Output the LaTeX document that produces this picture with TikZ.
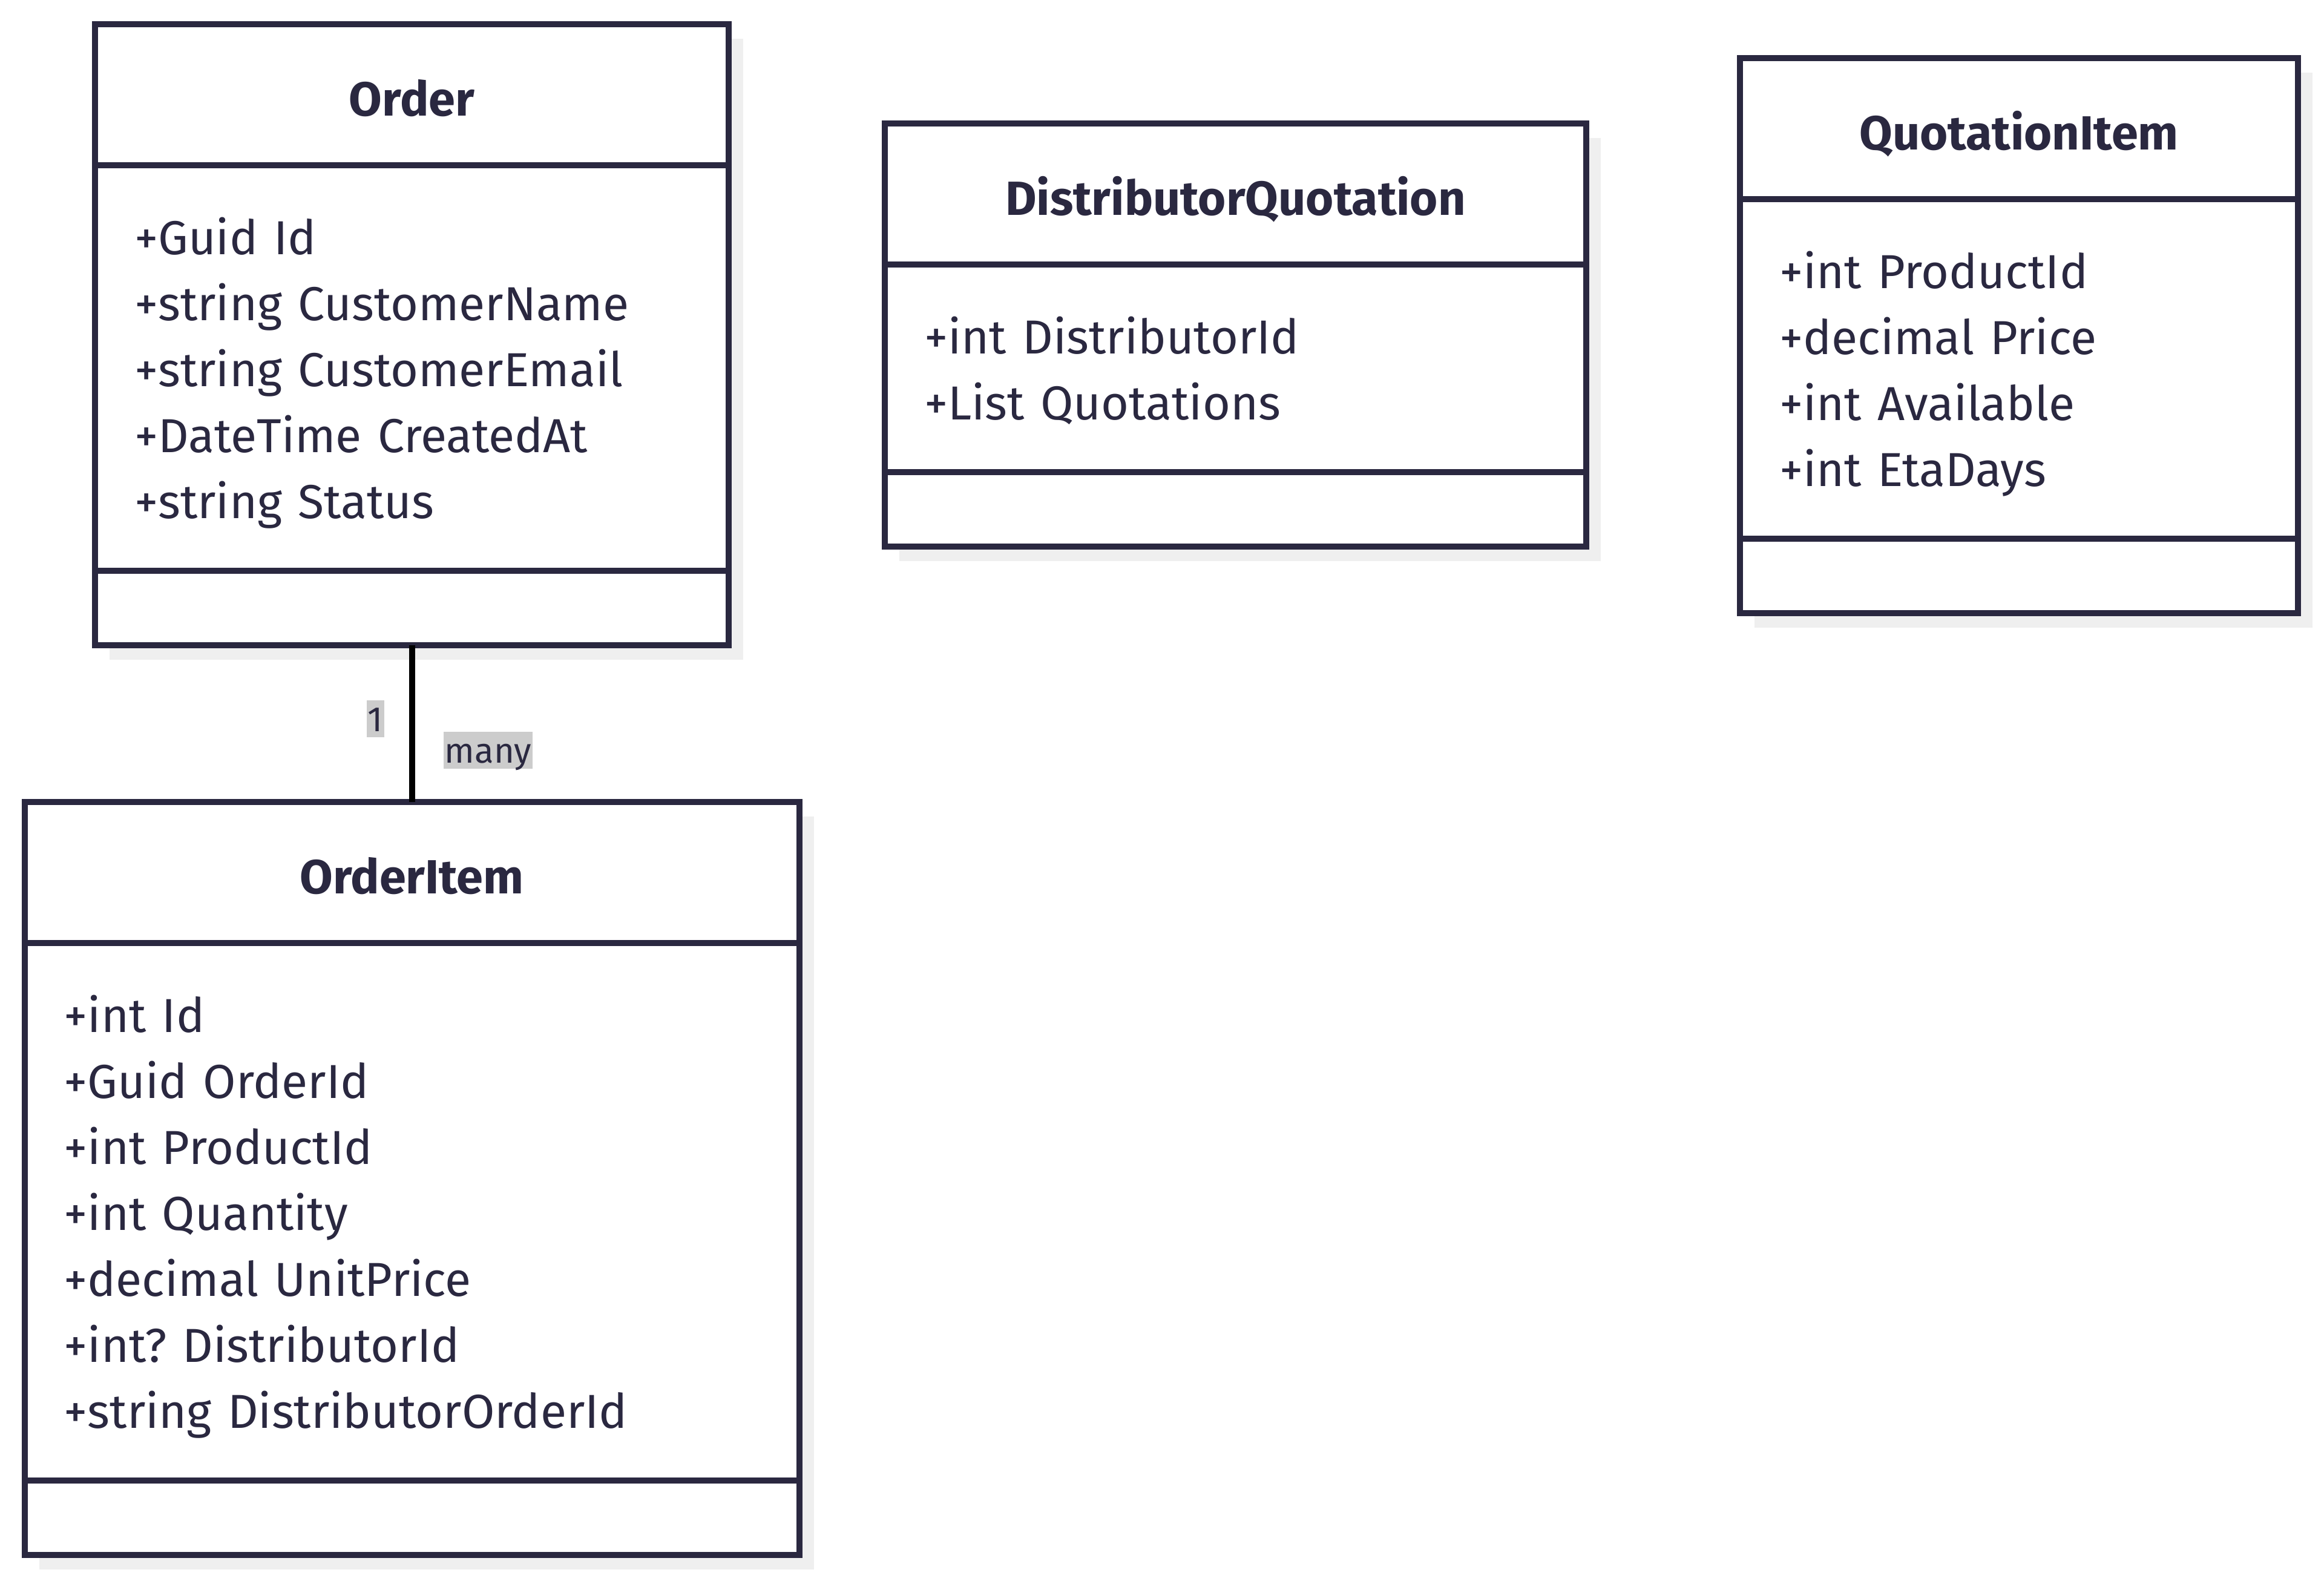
\documentclass[tikz,border=0pt]{standalone}
\usepackage{fontspec}
\setmainfont{Fira Sans}
\usetikzlibrary{positioning,shadows}
\definecolor{umlink}{HTML}{2A2840}
\definecolor{umlshade}{HTML}{EFEFEF}
\definecolor{cardbg}{HTML}{CCCCCC}
\newcommand{\fstrut}{\rule[-6pt]{0pt}{27.25pt}}
\frenchspacing
\tikzset{
 umlpart/.style={draw=umlink, line width=2.5pt, fill=white, outer sep=0pt, text=umlink,
  drop shadow={shadow xshift=6pt, shadow yshift=-6pt, fill=umlshade, opacity=1}},
 umltitle/.style={umlpart, font=\fontsize{19.8}{24}\selectfont\bfseries, minimum height=58.25pt,
  text height=17.5pt, text depth=0pt, inner sep=0pt},
 umlattr/.style={umlpart, font=\fontsize{19.7}{27.25}\selectfont, align=left, inner xsep=16.25pt, inner ysep=15.625pt},
 umlops/.style={umlpart, minimum height=30.75pt, inner sep=0pt},
 card/.style={fill=cardbg, text=umlink, font=\fontsize{14.5}{16}\selectfont, inner xsep=.5pt, inner ysep=0pt,
  text height=12.75pt, text depth=2.5pt},
 assoc/.style={black, line width=2.5pt}
}

\begin{document}
\frenchspacing
\begin{tikzpicture}
\useasboundingbox (0,0) rectangle (960pt,-652.75pt);

% Order
\node[umltitle, minimum width=261.75pt, anchor=north] (order) at (170.125pt,-10pt) {Order};
\node[umlattr, text width=229.25pt, below=0pt of order] (order-attr) {\fstrut+Guid Id\\ \fstrut+string CustomerName\\ \fstrut+string CustomerEmail\\ \fstrut+DateTime CreatedAt\\ \fstrut+string Status};
\node[umlops, minimum width=261.75pt, below=0pt of order-attr] (order-ops) {};

% DistributorQuotation
\node[umltitle, minimum width=289.75pt, anchor=north] (quote) at (510.375pt,-51pt) {DistributorQuotation};
\node[umlattr, text width=257.25pt, below=0pt of quote] (quote-attr) {\fstrut+int DistributorId\\ \fstrut+List Quotations};
\node[umlops, minimum width=289.75pt, below=0pt of quote-attr] (quote-ops) {};

% QuotationItem
\node[umltitle, minimum width=230.5pt, anchor=north] (qitem) at (834pt,-24pt) {QuotationItem};
\node[umlattr, text width=198pt, below=0pt of qitem] (qitem-attr) {\fstrut+int ProductId\\ \fstrut+decimal Price\\ \fstrut+int Available\\ \fstrut+int EtaDays};
\node[umlops, minimum width=230.5pt, below=0pt of qitem-attr] (qitem-ops) {};

% OrderItem
\node[umltitle, minimum width=320pt, below=64.75pt of order-ops] (item) {OrderItem};
\node[umlattr, text width=287.5pt, below=0pt of item] (item-attr) {\fstrut+int Id\\ \fstrut+Guid OrderId\\ \fstrut+int ProductId\\ \fstrut+int Quantity\\ \fstrut+decimal UnitPrice\\ \fstrut+int? DistributorId\\ \fstrut+string DistributorOrderId};
\node[umlops, minimum width=320pt, below=0pt of item-attr] (item-ops) {};

% association
\draw[assoc] (order-ops.south) -- (item.north)
 node[card, pos=.47, xshift=-15pt] (card-one) {1}
 node[card, pos=.67, xshift=31.5pt] (card-many) {many};
\end{tikzpicture}
\end{document}
